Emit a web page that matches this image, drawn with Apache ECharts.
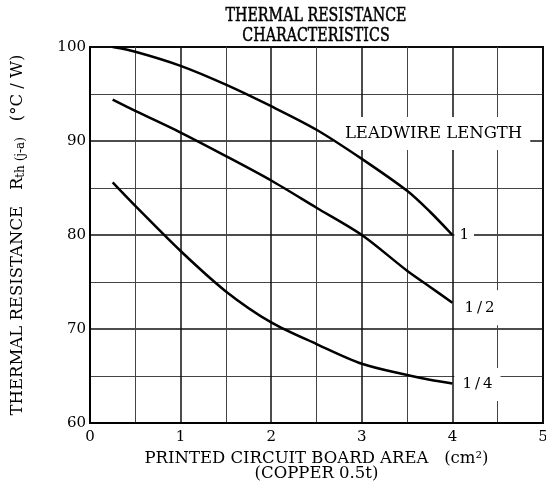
<!DOCTYPE html>
<html>
<head>
<meta charset="utf-8">
<script src="https://cdn.jsdelivr.net/npm/echarts@6/dist/echarts.min.js"></script>
<style>
  html, body { margin: 0; padding: 0; background: #fff; }
  #chart { width: 546px; height: 489px; }
</style>
</head>
<body>
<div id="chart"></div>
<script>
// board area (cm2) and thermal resistance per leadwire length
const areaX = [0.25, 0.5, 1, 1.5, 2, 2.5, 3, 3.5, 3.75, 4];
const lead1 = [100, 99.5, 98.0, 96.0, 93.7, 91.2, 88.1, 84.7, 82.5, 80.0];
const leadHalf = [94.4, 93.2, 90.9, 88.4, 85.8, 82.9, 80.0, 76.2, 74.5, 72.8];
const leadQuarter = [85.6, 83.1, 78.3, 74.0, 70.7, 68.4, 66.3, 65.1, 64.6, 64.2];
const seriesNames = ["1", "1\u2009/\u20092", "1\u2009/\u20094"];
const legendTitle = "LEADWIRE LENGTH";
const chartTitle = "THERMAL RESISTANCE\nCHARACTERISTICS";

const FONT = "DejaVu Serif";
const pairs = (ys) => areaX.map((x, i) => [x, ys[i]]);

const myChart = echarts.init(document.getElementById("chart"));

const lineSeries = (name, ys, pad, offset) => ({
  name: name,
  type: "line",
  data: pairs(ys),
  smooth: 0.3,
  symbol: "none",
  lineStyle: { color: "#000", width: 2.5 },
  endLabel: {
    show: true,
    formatter: name,
    color: "#000",
    fontFamily: FONT,
    fontSize: 15,
    backgroundColor: "#fff",
    padding: pad,
    distance: 2,
    offset: offset,
  },
  z: 3,
});

const option = {
  animation: false,
  backgroundColor: "#fff",
  textStyle: { fontFamily: FONT },
  // title as graphic text so it can be squeezed horizontally like the original
  graphic: [
    {
      type: "text",
      x: 316,
      y: 6,
      scaleX: 0.77,
      style: {
        text: chartTitle,
        fontFamily: FONT,
        fontSize: 18.5,
        lineHeight: 20,
        fill: "#000",
        textAlign: "center",
        textVerticalAlign: "top",
        stroke: "#000",
        lineWidth: 0.5,
      },
    },
  ],
  grid: {
    left: 90,
    right: 3,
    top: 47,
    bottom: 66,
    outerBoundsMode: "none",
    show: true,
    borderColor: "#000",
    borderWidth: 2,
  },
  xAxis: {
    type: "value",
    min: 0,
    max: 5,
    interval: 1,
    name: "PRINTED CIRCUIT BOARD AREA   (cm²)\n(COPPER 0.5t)",
    nameLocation: "middle",
    nameGap: 26,
    nameTextStyle: {
      fontFamily: FONT,
      fontSize: 16.5,
      color: "#000",
      lineHeight: 15,
      verticalAlign: "top",
    },
    axisLine: { show: true, lineStyle: { color: "#000", width: 2 } },
    axisTick: { show: false },
    axisLabel: { color: "#000", fontSize: 15, fontFamily: FONT, margin: 7 },
    splitLine: { show: true, lineStyle: { color: "#111", width: 1.5 } },
    minorTick: { show: false, splitNumber: 2 },
    minorSplitLine: { show: true, lineStyle: { color: "#444", width: 1 } },
  },
  yAxis: {
    type: "value",
    min: 60,
    max: 100,
    interval: 10,
    name: "THERMAL RESISTANCE   R{sub|th (j-a)}   (°C / W)",
    nameLocation: "middle",
    nameRotate: 90,
    nameGap: 63,
    nameTextStyle: {
      fontFamily: FONT,
      fontSize: 16.5,
      color: "#000",
      rich: {
        sub: { fontFamily: FONT, fontSize: 12, color: "#000", padding: [7, 0, 0, 0] },
      },
    },
    axisLine: { show: true, lineStyle: { color: "#000", width: 2 } },
    axisTick: { show: false },
    axisLabel: { color: "#000", fontSize: 15, fontFamily: FONT, margin: 4 },
    splitLine: { show: true, lineStyle: { color: "#111", width: 1.5 } },
    minorTick: { show: false, splitNumber: 2 },
    minorSplitLine: { show: true, lineStyle: { color: "#444", width: 1 } },
  },
  series: [
    {
      // holder for the legend caption, drawn under the curves
      type: "line",
      data: [],
      z: 2,
      markPoint: {
        z: 2,
        symbol: "circle",
        symbolSize: 0,
        silent: true,
        data: [{ coord: [3.77, 90.8] }],
        label: {
          show: true,
          position: "inside",
          formatter: legendTitle,
          color: "#000",
          fontFamily: FONT,
          fontSize: 16.5,
          backgroundColor: "#fff",
          padding: [8, 8, 8, 12],
        },
      },
    },
    lineSeries(seriesNames[0], lead1, [3, 5], [0, 0]),
    lineSeries(seriesNames[1], leadHalf, [10, 10], [0, 5]),
    lineSeries(seriesNames[2], leadQuarter, [9, 8], [0, 1]),
  ],
};

myChart.setOption(option);
</script>
</body>
</html>
